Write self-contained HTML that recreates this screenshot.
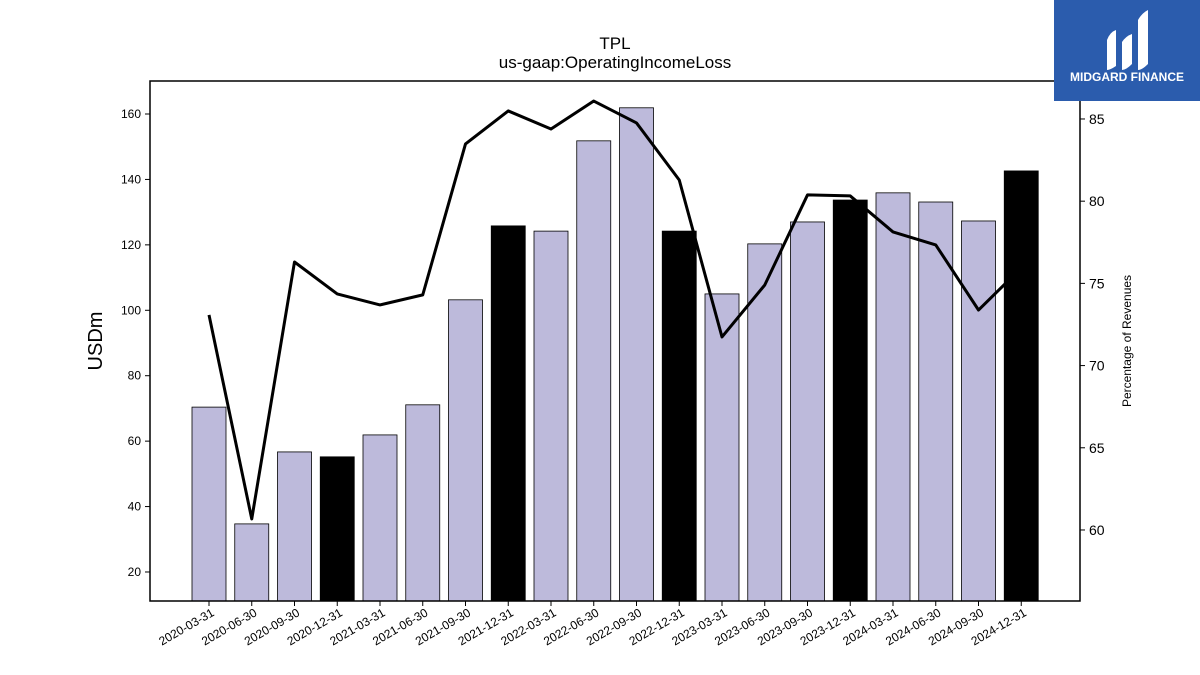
<!DOCTYPE html>
<html><head><meta charset="utf-8"><style>
html,body{margin:0;padding:0;background:#fff;}
svg{display:block;font-family:"Liberation Sans","DejaVu Sans",sans-serif;}
</style></head><body>
<svg id="chart" width="1200" height="675" viewBox="0 0 1200 675">
<text x="615" y="49" font-size="17" text-anchor="middle">TPL</text>
<text x="615" y="68" font-size="17" text-anchor="middle">us-gaap:OperatingIncomeLoss</text>
<g id="bars"></g><g id="line"></g><g id="axes"></g>
<rect x="150" y="81" width="930" height="520" fill="none" stroke="#000" stroke-width="1.5"/>
<text transform="translate(102,341) rotate(-90)" font-size="20" text-anchor="middle">USDm</text>
<text transform="translate(1131,341) rotate(-90)" font-size="12" text-anchor="middle">Percentage of Revenues</text>
<g>
<rect x="1054" y="0" width="146" height="101" fill="#2b5cad"/>
<path d="M1107 40 Q1110 32 1116 30 L1116 66 Q1110 70 1107 70 Z M1122 42 Q1126 36 1132 34 L1132 64 Q1126 70 1122 70 Z M1138 20 Q1142 13 1148 10 L1148 64 Q1142 70 1138 70 Z" fill="#fff"/>
<text x="1127" y="81" font-size="12" font-weight="bold" fill="#fff" text-anchor="middle">MIDGARD FINANCE</text>
</g>
</svg>
<script>
const categories=["2020-03-31","2020-06-30","2020-09-30","2020-12-31","2021-03-31","2021-06-30","2021-09-30","2021-12-31","2022-03-31","2022-06-30","2022-09-30","2022-12-31","2023-03-31","2023-06-30","2023-09-30","2023-12-31","2024-03-31","2024-06-30","2024-09-30","2024-12-31"];
const incomeValues=[70.4,34.7,56.7,55.2,61.9,71.1,103.2,125.8,124.2,151.8,161.9,124.2,105,120.3,127,133.7,135.9,133.1,127.3,142.6];
const pctValues=[73.08,60.67,76.3,74.36,73.69,74.3,83.48,85.49,84.39,86.09,84.76,81.29,71.74,74.9,80.38,80.32,78.13,77.34,73.38,75.94];
const leftTicks=[20,40,60,80,100,120,140,160];
const rightTicks=[60,65,70,75,80,85];
const NS="http://www.w3.org/2000/svg";
const L=150,R=1080,T=81,B=601;
const yL=v=>B-(v-11.13)*(B-T)/(170.09-11.13);
const yR=v=>B-(v-55.68)*(B-T)/(87.31-55.68);
const step=(R-L)/(categories.length+1.75);
const xC=i=>209+i*42.75;
function mk(tag,attrs,parent){const e=document.createElementNS(NS,tag);for(const k in attrs)e.setAttribute(k,attrs[k]);parent.appendChild(e);return e;}
const bars=document.getElementById('bars'),line=document.getElementById('line'),axes=document.getElementById('axes');
categories.forEach((c,i)=>{
  const v=incomeValues[i];
  const r=mk('rect',{x:xC(i)-17,y:yL(v),width:34,height:B-yL(v),fill:(i%4===3)?'#000':'#bdbadb',stroke:'#000','stroke-width':0.8},bars);
  
  
  mk('line',{x1:xC(i),x2:xC(i),y1:B,y2:B+5,stroke:'#000'},axes);
  const t=mk('text',{x:xC(i)+6,y:B+14,'font-size':12,'text-anchor':'end',transform:`rotate(-30 ${xC(i)+6} ${B+14})`},axes);
  t.textContent=c;
  
  
});
const p=mk('polyline',{points:pctValues.map((v,i)=>xC(i)+','+yR(v)).join(' '),fill:'none',stroke:'#000','stroke-width':3,'stroke-linejoin':'round'},line);


leftTicks.forEach(v=>{
  mk('line',{x1:L-5,x2:L,y1:yL(v),y2:yL(v),stroke:'#000'},axes);
  const t=mk('text',{x:L-9,y:yL(v)+4,'font-size':12,'text-anchor':'end'},axes);
  t.textContent=v;
  
  
});
rightTicks.forEach(v=>{
  mk('line',{x1:R,x2:R+5,y1:yR(v),y2:yR(v),stroke:'#000'},axes);
  const t=mk('text',{x:R+9,y:yR(v)+5,'font-size':14},axes);
  t.textContent=v;
  
  
});
</script>
</body></html>
